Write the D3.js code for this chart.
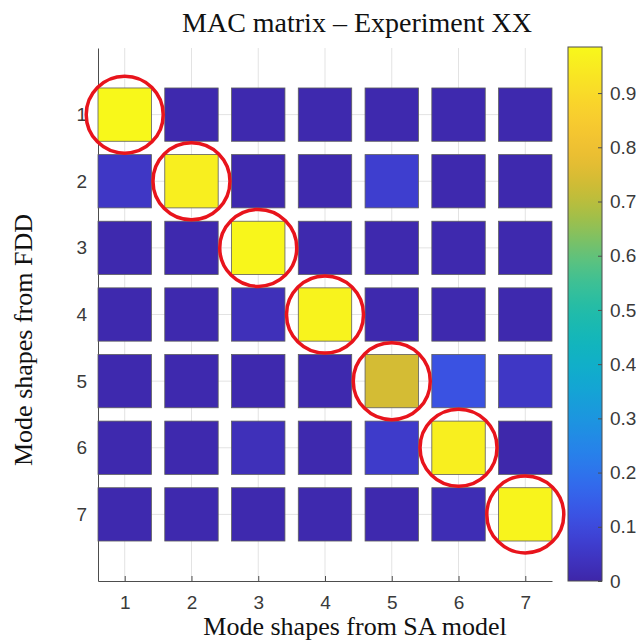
<!DOCTYPE html>
<html>
<head>
<meta charset="utf-8">
<script src="https://cdn.jsdelivr.net/npm/d3@7"></script>
<style>
  html, body { margin: 0; padding: 0; background: #fff; }
  svg { display: block; }
  .tick text { font-family: "Liberation Sans", Arial, sans-serif; font-size: 19px; fill: #3a3a3a; }
  .lbl { font-family: "Liberation Serif", "Times New Roman", serif; fill: #111; }
</style>
</head>
<body>
<svg id="chart"></svg>
<script>
// mode numbers (rows = FDD, columns = SA model)
const modes = [1, 2, 3, 4, 5, 6, 7];

// MAC values, one array per FDD mode
const row1 = [0.985, 0.01, 0.01, 0.01, 0.01, 0.01, 0.01];
const row2 = [0.05, 0.96, 0.01, 0.01, 0.07, 0.01, 0.01];
const row3 = [0.01, 0.01, 0.98, 0.01, 0.01, 0.01, 0.01];
const row4 = [0.01, 0.01, 0.03, 0.97, 0.01, 0.01, 0.01];
const row5 = [0.01, 0.01, 0.01, 0.01, 0.74, 0.12, 0.05];
const row6 = [0.01, 0.01, 0.03, 0.01, 0.06, 0.96, 0.005];
const row7 = [0.01, 0.01, 0.01, 0.01, 0.01, 0.02, 0.975];
const macRows = [row1, row2, row3, row4, row5, row6, row7];

// colorbar ticks
const cbarTicks = [0, 0.1, 0.2, 0.3, 0.4, 0.5, 0.6, 0.7, 0.8, 0.9];

// parula-like colours sampled off the colorbar
const parula = ["#3e26a8", "#4047e2", "#2e74f2", "#1d95e0", "#0cb0cc",
                "#18bcab", "#55c487", "#b7bd32", "#f4ba34", "#fad52c", "#f8f81a"];

const W = 636, H = 642;
const svg = d3.select('#chart').attr('width', W).attr('height', H);

// plot area
const x = d3.scaleLinear().domain([0.6, 7.4]).range([98, 552]);
const y = d3.scaleLinear().domain([0, 8]).range([48, 581]);

const macMax = d3.max(macRows, r => d3.max(r));
const color = d3.scaleSequential(d3.interpolateRgbBasis(parula)).domain([0, macMax]);

// flatten into cells
const cells = [];
macRows.forEach((r, i) => r.forEach((v, j) => cells.push({ row: modes[i], col: modes[j], v: v })));

// grid lines
const grid = svg.append('g');
grid.selectAll('.gx').data(modes).join('line')
  .attr('x1', d => x(d)).attr('x2', d => x(d))
  .attr('y1', y(0)).attr('y2', y(8))
  .attr('stroke', '#e3e3e3').attr('stroke-width', 1);
grid.selectAll('.gy').data(modes).join('line')
  .attr('x1', x(0.6)).attr('x2', x(7.4))
  .attr('y1', d => y(d)).attr('y2', d => y(d))
  .attr('stroke', '#e3e3e3').attr('stroke-width', 1);

// axes (ticks pointing inward, matlab style)
const xAxis = svg.append('g')
  .attr('transform', `translate(0,${y(8)})`)
  .call(d3.axisBottom(x).tickValues(modes).tickFormat(d3.format('d')).tickSizeInner(-5).tickSizeOuter(0).tickPadding(15));
const yAxis = svg.append('g')
  .attr('transform', `translate(${x(0.6)},0)`)
  .call(d3.axisLeft(y).tickValues(modes).tickFormat(d3.format('d')).tickSizeInner(-5).tickSizeOuter(0).tickPadding(11));
[xAxis, yAxis].forEach(a => {
  a.select('.domain').attr('stroke', '#4d4d4d');
  a.selectAll('.tick line').attr('stroke', '#4d4d4d');
});

// MAC squares
const half = 0.4;
svg.append('g').selectAll('rect').data(cells).join('rect')
  .attr('x', d => x(d.col - half))
  .attr('y', d => y(d.row - half))
  .attr('width', d => x(d.col + half) - x(d.col - half))
  .attr('height', d => y(d.row + half) - y(d.row - half))
  .attr('fill', d => color(d.v))
  .attr('stroke', '#5e5e5e')
  .attr('stroke-width', 0.8);

// red circles on the diagonal
svg.append('g').selectAll('circle').data(modes).join('circle')
  .attr('cx', d => x(d))
  .attr('cy', d => y(d))
  .attr('r', 38.5)
  .attr('fill', 'none')
  .attr('stroke', '#e8141c')
  .attr('stroke-width', 3.5);

// colorbar
const cb = { x: 568, w: 34 };
const cy = d3.scaleLinear().domain([0, macMax]).range([581, 47]);
const grad = svg.append('defs').append('linearGradient')
  .attr('id', 'cbgrad').attr('x1', 0).attr('y1', 1).attr('x2', 0).attr('y2', 0);
grad.selectAll('stop').data(d3.range(0, 1.0001, 0.02)).join('stop')
  .attr('offset', d => d)
  .attr('stop-color', d => color(d * macMax));
svg.append('rect')
  .attr('x', cb.x).attr('y', cy(macMax))
  .attr('width', cb.w).attr('height', cy(0) - cy(macMax))
  .attr('fill', 'url(#cbgrad)')
  .attr('stroke', '#4d4d4d').attr('stroke-width', 1);
const cAxis = svg.append('g')
  .attr('transform', `translate(${cb.x + cb.w},0)`)
  .call(d3.axisRight(cy).tickValues(cbarTicks).tickFormat(d => d === 0 ? '0' : d3.format('.1f')(d)).tickSizeInner(-4).tickSizeOuter(0).tickPadding(8));
cAxis.select('.domain').remove();
cAxis.selectAll('.tick line').attr('stroke', '#4d4d4d');

// titles
svg.append('text').attr('class', 'lbl')
  .attr('x', 357).attr('y', 32)
  .attr('text-anchor', 'middle')
  .style('font-size', '28px')
  .text('MAC matrix – Experiment XX');
svg.append('text').attr('class', 'lbl')
  .attr('x', 355).attr('y', 635)
  .attr('text-anchor', 'middle')
  .style('font-size', '26px')
  .text('Mode shapes from SA model');
svg.append('text').attr('class', 'lbl')
  .attr('transform', 'translate(32,340) rotate(-90)')
  .attr('text-anchor', 'middle')
  .style('font-size', '26px')
  .text('Mode shapes from FDD');
</script>
</body>
</html>
